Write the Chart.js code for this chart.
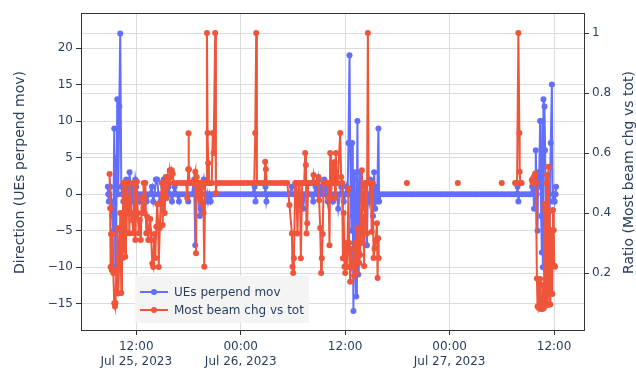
<!DOCTYPE html>
<html>
<head>
<meta charset="utf-8">
<script src="https://cdn.jsdelivr.net/npm/chart.js@4.4.1/dist/chart.umd.min.js"></script>
<style>
  body { margin: 0; background: #fff; }
  canvas { display: block; }
</style>
</head>
<body>
<canvas id="myChart" width="636" height="370"></canvas>
<script>
// tiempos en horas desde el 25 jul 2023 00:00

// UEs perpend mov: puntos fuera de la linea base
const blueTimes = [
  8.73, 8.78, 8.84, 8.90, 9.01, 9.13, 9.24, 9.36, 9.47, 9.59,
  9.65, 9.70, 9.82, 9.93, 10.05, 10.16, 10.28, 10.39, 10.51, 10.62,
  10.74, 10.85, 10.97, 11.08, 11.23, 11.37, 11.48, 11.60, 11.77, 11.89,
  12.00, 12.35, 13.20, 13.80, 13.95, 14.25, 14.40, 14.76, 15.10, 15.15,
  15.70, 16.10, 16.40, 16.90, 17.97, 18.65, 18.78, 18.90, 19.30, 19.40,
  19.60, 19.75, 20.00, 20.25, 20.55, 25.60, 25.70, 26.85, 26.95, 29.88,
  31.18, 32.33, 32.60, 32.95, 33.30, 33.60, 33.90, 34.00, 34.60, 35.20,
  35.55, 35.85, 36.15, 36.28, 36.38, 36.50, 36.57, 36.65, 36.72, 36.80,
  36.88, 36.95, 37.02, 37.10, 37.17, 37.27, 37.35, 37.41, 37.50, 37.56,
  37.62, 37.72, 37.84, 37.95, 38.07, 38.20, 38.30, 38.50, 38.60, 38.75,
  38.87, 39.00, 39.10, 39.20, 39.33, 39.45, 39.56, 39.68, 39.82, 39.90,
  55.80, 55.90, 57.48, 57.60, 57.70, 57.83, 57.90, 58.00, 58.10, 58.17,
  58.28, 58.40, 58.52, 58.60, 58.67, 58.71, 58.78, 58.90, 58.97, 59.08,
  59.20, 59.30, 59.46, 59.62, 59.75, 59.84, 59.95, 60.07, 60.18, 60.23
];
const blueValues = [
  1, 0, -1, 0, 1, -1, -3, -5, 9, -10,
  5, -5, 13, 0, 12, 22, 1, 0, -1, 1,
  0, 2, -1, 0, 3, 0, -1, 1, 0, 2,
  1, -1, -1, 1, -1, 2, 2, -1, 1, 2,
  1, -1, 1, -1, -1, 2, -7, 1, -3, -2,
  1, 2, -1, -1, -1, 1, -1, 1, -1, 1,
  -2, -1, 1, 2, 1, 2, 1, -1, -1, -2,
  1, -1, 1, 0, 7, 19, 7, 0, -5, 7,
  -3, -16, 2, 3, -10, -14, 0, 10, -11, -8,
  0, 3, -1, 1, 0, -2, 1, -7, 0, -1,
  2, 0, 1, -3, 3, -2, 1, -1, 9, -1,
  1, -1, 1, 2, -2, 1, 6, 0, -5, 3,
  1, 10, -3, -8, 10, -10, 13, 12, 6, -9,
  -4, -1, -6, 7, 15, -1, 0, -1, 0, 1
];
// UEs perpend mov: muestras en la linea base (valor 0)
const blueBaseValue = 0;
const blueBaseTimes = [
  12.10, 12.45, 12.80, 13.15, 13.50, 13.85, 14.10, 14.55, 14.90, 15.25,
  15.55, 15.90, 16.25, 16.65, 17.00, 17.35, 17.70, 18.05, 18.40, 19.10,
  19.90, 20.15, 20.40, 20.75, 21.10, 21.45, 21.80, 22.15, 22.50, 22.85,
  23.20, 23.55, 23.90, 24.25, 24.60, 24.95, 25.30, 25.80, 26.10, 26.45,
  26.75, 27.10, 27.45, 27.80, 28.15, 28.50, 28.85, 29.20, 29.55, 30.00,
  30.35, 30.70, 31.05, 31.35, 31.70, 32.05, 32.45, 32.80, 33.15, 33.45,
  33.75, 34.15, 34.45, 34.80, 35.05, 35.40, 35.70, 36.00,
  40.00, 40.35, 40.70, 41.05, 41.40, 41.75, 42.10, 42.45, 42.80, 43.15,
  43.50, 43.85, 44.20, 44.55, 44.90, 45.25, 45.60, 45.95, 46.30, 46.65,
  47.00, 47.35, 47.70, 48.05, 48.40, 48.75, 49.10, 49.45, 49.80, 50.15,
  50.50, 50.85, 51.20, 51.55, 51.90, 52.25, 52.60, 52.95, 53.30, 53.65,
  54.00, 54.35, 54.70, 55.05, 55.40, 55.70, 56.00, 56.35, 56.70, 57.05, 57.35
];

// Most beam chg vs tot
const redTimes = [
  8.93, 9.00, 9.05, 9.10, 9.19, 9.30, 9.36, 9.47, 9.55, 9.62,
  9.70, 9.78, 9.85, 9.93, 10.05, 10.16, 10.28, 10.36, 10.43, 10.50,
  10.59, 10.66, 10.74, 10.82, 10.89, 10.97, 11.05, 11.14, 11.20, 11.31,
  11.43, 11.54, 11.66, 11.77, 11.89, 12.08, 12.17, 12.29, 12.40, 12.52,
  12.63, 12.75, 12.86, 12.98, 13.03, 13.15, 13.26, 13.38, 13.49, 13.61,
  13.72, 13.84, 13.95, 14.07, 14.18, 14.30, 14.41, 14.53, 14.58, 14.70,
  14.81, 14.93, 15.04, 15.16, 15.27, 15.39, 15.50, 15.62, 15.73, 15.85,
  15.96, 16.08, 16.19, 16.30,
  17.74, 17.86, 17.97, 18.00, 18.05, 18.14, 18.30, 18.50, 18.78, 18.86,
  18.95, 19.06, 19.18, 19.29, 19.41, 19.52, 19.64, 19.73, 19.81, 19.92,
  20.04, 20.12, 20.19, 20.27, 20.35, 20.50, 20.67, 20.79, 20.88, 21.07,
  21.15, 21.24,
  25.55, 25.67, 25.78, 25.86, 26.76, 26.81, 26.89, 26.99,
  29.60, 29.88, 29.95, 30.03, 30.11, 30.26, 30.37, 30.52, 30.66, 30.78,
  30.91, 31.06, 31.18, 31.29, 31.41, 31.49, 31.56, 31.64, 31.75, 31.87,
  31.98, 32.10, 32.21, 32.36, 32.44, 32.56, 32.67, 32.84, 32.94, 33.01,
  33.13, 33.24, 33.32, 33.42, 33.53, 33.65, 33.76, 33.88, 33.99, 34.11,
  34.20, 34.28, 34.36, 34.45, 34.51, 34.63, 34.78, 34.85, 34.93, 35.02,
  35.14, 35.43, 35.54, 35.66, 35.74, 35.83, 35.92, 36.00, 36.11, 36.23,
  36.38, 36.46, 36.57, 36.69, 36.80, 36.95, 37.03, 37.15, 37.27, 37.41,
  37.53, 37.61, 37.72, 37.92, 38.01, 38.10, 38.18, 38.30, 38.41, 38.49,
  38.61, 38.70, 38.80, 38.94, 39.05, 39.17, 39.26, 39.37, 39.51, 39.65,
  39.72, 39.79, 39.85,
  43.09, 48.94, 53.99, 55.52, 55.63, 55.75, 55.90, 56.02, 56.05, 56.12, 56.28,
  57.44, 57.54, 57.66, 57.83, 57.91, 58.03, 58.10, 58.17, 58.25, 58.33,
  58.40, 58.48, 58.57, 58.67, 58.75, 58.83, 58.90, 58.97, 59.05, 59.14,
  59.20, 59.28, 59.35, 59.42, 59.50, 59.57, 59.65, 59.73, 59.80, 59.88,
  59.96, 60.03, 60.11
];
const redValues = [
  0.53, 0.416, 0.22, 0.33, 0.21, 0.33, 0.2, 0.099, 0.088, 0.1,
  0.21, 0.133, 0.35, 0.132, 0.243, 0.4, 0.133, 0.4, 0.25, 0.5,
  0.277, 0.5, 0.254, 0.443, 0.333, 0.5, 0.4, 0.45, 0.333, 0.5,
  0.4, 0.377, 0.333, 0.5, 0.31, 0.504, 0.4, 0.333, 0.377, 0.31,
  0.45, 0.4, 0.5, 0.4, 0.5, 0.333, 0.388, 0.31, 0.343, 0.38,
  0.31, 0.232, 0.22, 0.33, 0.25, 0.354, 0.43, 0.354, 0.22, 0.35,
  0.43, 0.5, 0.36, 0.5, 0.4, 0.52, 0.45, 0.52, 0.5, 0.543,
  0.52, 0.543, 0.53, 0.5,
  0.5, 0.45, 0.546, 0.666, 0.546, 0.5, 0.5, 0.5, 0.538, 0.266,
  0.52, 0.5, 0.45, 0.5, 0.443, 0.5, 0.43, 0.4, 0.221, 0.5,
  0.5, 1.0, 0.667, 0.567, 0.5, 0.5, 0.5, 0.667, 0.6, 1.0,
  0.466, 0.5,
  0.5, 0.667, 1.0, 0.5, 0.5, 0.571, 0.546, 0.5,
  0.427, 0.332, 0.221, 0.2, 0.249, 0.5, 0.5, 0.332, 0.5, 0.5,
  0.249, 0.5, 0.5, 0.5, 0.6, 0.56, 0.332, 0.366, 0.5, 0.5,
  0.5, 0.5, 0.5, 0.527, 0.5, 0.5, 0.5, 0.5, 0.52, 0.443,
  0.35, 0.2, 0.249, 0.33, 0.5, 0.5, 0.5, 0.5, 0.5, 0.45,
  0.293, 0.6, 0.45, 0.5, 0.566, 0.5, 0.57, 0.45, 0.6, 0.5,
  0.5, 0.667, 0.52, 0.5, 0.249, 0.4, 0.221, 0.2, 0.3, 0.22,
  0.482, 0.3, 0.171, 0.28, 0.22, 0.233, 0.19, 0.3, 0.2, 0.35,
  0.316, 0.233, 0.26, 0.543, 0.3, 0.388, 0.223, 0.5, 0.5, 0.332,
  1.0, 0.5, 0.5, 0.5, 0.338, 0.5, 0.25, 0.282, 0.31, 0.366,
  0.183, 0.316, 0.25,
  0.5, 0.5, 0.5, 0.5, 0.5, 0.5, 1.0, 0.667, 0.538, 0.5, 0.5,
  0.51, 0.5, 0.52, 0.532, 0.5, 0.182, 0.088, 0.18, 0.083, 0.09,
  0.18, 0.08, 0.1, 0.08, 0.16, 0.083, 0.43, 0.41, 0.1, 0.5,
  0.527, 0.093, 0.554, 0.404, 0.132, 0.095, 0.343, 0.312, 0.13, 0.41,
  0.343, 0.224, 0.221
];
// muestras planas en 0.5
const redBaseValue = 0.5;
const redBaseTimes = [
  16.70, 17.10, 17.45, 21.60, 22.00, 22.40, 22.80, 23.20, 23.60, 24.00,
  24.40, 24.80, 25.20, 26.20, 26.50, 27.40, 27.80, 28.20, 28.60, 29.00, 29.35
];
// huecos sin datos (la linea se corta)
const redGapTimes = [40.5, 45.0, 50.0, 54.8, 56.8];

// ejes
const leftTicks = [-15, -10, -5, 0, 5, 10, 15, 20];
const rightTicks = [0.2, 0.4, 0.6, 0.8, 1];
const xTickHours = [12, 24, 36, 48, 60];
const xTickLabels = [
  ['12:00', 'Jul 25, 2023'],
  ['00:00', 'Jul 26, 2023'],
  ['12:00'],
  ['00:00', 'Jul 27, 2023'],
  ['12:00']
];
const leftTitle = 'Direction (UEs perpend mov)';
const rightTitle = 'Ratio (Most beam chg vs tot)';

const fontColor = '#2a3f5f';
const gridColor = '#dcdcdc';
const lineColor = '#333';
const fontFamily = '"DejaVu Sans", Verdana, sans-serif';

function buildPoints(times, values, baseTimes, baseValue, gapTimes) {
    let pts = times.map((t, i) => ({ x: t, y: values[i] }));
    baseTimes.forEach(t => pts.push({ x: t, y: baseValue }));
    (gapTimes || []).forEach(t => pts.push({ x: t, y: null }));
    pts.sort((a, b) => a.x - b.x);
    return pts;
}

function fixSize(w, h) {
    return function(scale) {
        if (w) scale.width = w;
        if (h) scale.height = h;
        scale.paddingTop = 0;
        scale.paddingBottom = 0;
        scale.paddingLeft = 0;
        scale.paddingRight = 0;
    };
}

// marco superior, titulos de ejes y leyenda
const extras = {
    id: 'extras',
    afterDraw(chart) {
        const ctx = chart.ctx;
        const a = chart.chartArea;
        ctx.save();

        ctx.strokeStyle = lineColor;
        ctx.lineWidth = 1;
        ctx.beginPath();
        ctx.moveTo(a.left, a.top + 0.5);
        ctx.lineTo(a.right, a.top + 0.5);
        ctx.stroke();

        ctx.fillStyle = fontColor;
        ctx.font = '14px ' + fontFamily;
        ctx.textAlign = 'center';
        ctx.textBaseline = 'middle';
        let midY = (a.top + a.bottom) / 2;
        [[20, leftTitle], [629, rightTitle]].forEach(([x, txt]) => {
            ctx.save();
            ctx.translate(x, midY + 1);
            ctx.rotate(-Math.PI / 2);
            ctx.fillText(txt, 0, 0);
            ctx.restore();
        });

        // leyenda
        ctx.fillStyle = '#f4f4f4';
        ctx.fillRect(135, 276, 174, 47);
        ctx.font = '12px ' + fontFamily;
        ctx.textAlign = 'left';
        chart.data.datasets.forEach((ds, i) => {
            let y = 292 + i * 18;
            ctx.strokeStyle = ds.borderColor;
            ctx.lineWidth = 2;
            ctx.beginPath();
            ctx.moveTo(140, y);
            ctx.lineTo(168, y);
            ctx.stroke();
            ctx.fillStyle = ds.borderColor;
            ctx.beginPath();
            ctx.arc(154, y, 3, 0, Math.PI * 2);
            ctx.fill();
            ctx.fillStyle = fontColor;
            ctx.fillText(ds.label, 174, y + 1);
        });
        ctx.restore();
    }
};

let ctx = document.getElementById('myChart').getContext('2d');

new Chart(ctx, {
    type: 'line',
    data: {
        datasets: [{
            label: 'UEs perpend mov',
            data: buildPoints(blueTimes, blueValues, blueBaseTimes, blueBaseValue),
            yAxisID: 'y',
            borderColor: '#636efa',
            backgroundColor: '#636efa',
            pointBackgroundColor: '#636efa',
            borderWidth: 2,
            pointRadius: 3,
            pointBorderWidth: 0,
            spanGaps: false,
            order: 2
        }, {
            label: 'Most beam chg vs tot',
            data: buildPoints(redTimes, redValues, redBaseTimes, redBaseValue, redGapTimes),
            yAxisID: 'y2',
            borderColor: '#ef553b',
            backgroundColor: '#ef553b',
            pointBackgroundColor: '#ef553b',
            borderWidth: 2,
            pointRadius: 3,
            pointBorderWidth: 0,
            spanGaps: false,
            order: 1
        }]
    },
    options: {
        responsive: false,
        animation: false,
        devicePixelRatio: 1,
        layout: { padding: { top: 13, left: 0, right: 0, bottom: 0 } },
        plugins: {
            legend: { display: false },
            tooltip: { enabled: false }
        },
        scales: {
            x: {
                type: 'linear',
                position: 'bottom',
                min: 5.65,
                max: 63.44,
                afterBuildTicks: s => { s.ticks = xTickHours.map(v => ({ value: v })); },
                afterFit: fixSize(0, 40),
                grid: { color: gridColor, tickColor: lineColor, tickLength: 5 },
                border: { display: true, color: lineColor },
                ticks: {
                    autoSkip: false,
                    maxRotation: 0,
                    padding: 5,
                    color: fontColor,
                    font: { family: fontFamily, size: 12, lineHeight: 1.2 },
                    callback: (v, i) => xTickLabels[i]
                }
            },
            y: {
                type: 'linear',
                position: 'left',
                min: -18.6,
                max: 24.8,
                afterBuildTicks: s => { s.ticks = leftTicks.map(v => ({ value: v })); },
                afterFit: fixSize(81, 0),
                grid: { color: gridColor, tickColor: lineColor, tickLength: 5 },
                border: { display: true, color: lineColor },
                ticks: {
                    padding: 3,
                    color: fontColor,
                    font: { family: fontFamily, size: 12 },
                    callback: v => String(v).replace('-', '\u2212')
                }
            },
            y2: {
                type: 'linear',
                position: 'right',
                min: 0.01,
                max: 1.067,
                afterBuildTicks: s => { s.ticks = rightTicks.map(v => ({ value: v })); },
                afterFit: fixSize(52, 0),
                grid: { color: gridColor, tickColor: lineColor, tickLength: 5 },
                border: { display: true, color: lineColor },
                ticks: {
                    padding: 3,
                    color: fontColor,
                    font: { family: fontFamily, size: 12 },
                    callback: v => String(v)
                }
            }
        }
    },
    plugins: [extras]
});
</script>
</body>
</html>
